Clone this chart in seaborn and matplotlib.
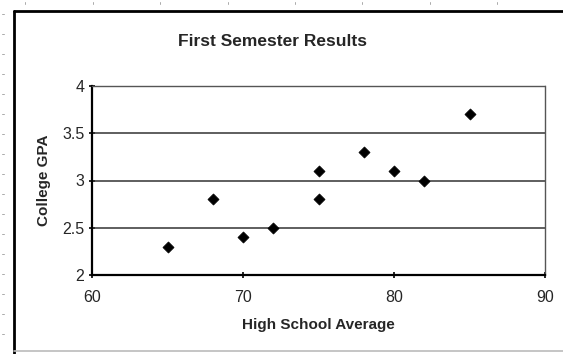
import matplotlib
matplotlib.use("Agg")
import matplotlib.pyplot as plt
from matplotlib.lines import Line2D
import seaborn as sns
import pandas as pd

# Entrance averages and first-semester GPAs
high_school_avg = [65, 68, 70, 72, 75, 75, 78, 80, 82, 85]
college_gpa = [2.3, 2.8, 2.4, 2.5, 3.1, 2.8, 3.3, 3.1, 3.0, 3.7]
x_ticks = [60, 70, 80, 90]
y_ticks = [2, 2.5, 3, 3.5, 4]
y_tick_labels = ["2", "2.5", "3", "3.5", "4"]

df = pd.DataFrame({"High School Average": high_school_avg, "College GPA": college_gpa})

sns.set_style("white")
plt.rcParams["font.family"] = ["Liberation Sans", "DejaVu Sans"]

W, H = 563, 354
fig = plt.figure(figsize=(W / 100, H / 100), dpi=100)
ax = fig.add_axes([92 / W, 1 - 275 / H, (545 - 92) / W, (275 - 86) / H])

# horizontal gridlines
for yv in [2.5, 3, 3.5]:
    ax.axhline(yv, color="#333333", lw=1.1, zorder=1)

sns.scatterplot(data=df, x="High School Average", y="College GPA", marker="D",
                s=32, color="black", edgecolor="black", linewidth=0.5, ax=ax, zorder=3)

ax.set_xlim(60, 90)
ax.set_ylim(2, 4)
ax.set_xticks(x_ticks)
ax.set_yticks(y_ticks)
ax.set_yticklabels(y_tick_labels)
ax.tick_params(axis="both", which="major", direction="inout", length=5, width=1.2,
               labelsize=11.5, color="black", bottom=True, left=True)
ax.tick_params(axis="x", pad=8)
ax.tick_params(axis="y", pad=3)

for side in ["left", "bottom"]:
    ax.spines[side].set_color("black")
    ax.spines[side].set_linewidth(1.6)
ax.spines["top"].set_color("#555555")
ax.spines["top"].set_linewidth(1.0)
ax.spines["top"].set_linestyle((0, (2, 1)))
ax.spines["right"].set_color("#555555")
ax.spines["right"].set_linewidth(1.0)
ax.spines["right"].set_linestyle((0, (1, 1)))

ax.set_xlabel("High School Average", fontsize=11, fontweight="bold", labelpad=10)
ax.set_ylabel("College GPA", fontsize=11, fontweight="bold", labelpad=8)

fig.text(272 / W, 1 - 42 / H, "First Semester Results", ha="center", va="center",
         fontsize=12.5, fontweight="bold")

# chart frame
fig.add_artist(Line2D([14 / W, 14 / W], [0, 1 - 11 / H], transform=fig.transFigure,
                      color="black", lw=2))
fig.add_artist(Line2D([14 / W, 1], [1 - 11 / H, 1 - 11 / H], transform=fig.transFigure,
                      color="black", lw=2))
fig.add_artist(Line2D([14 / W, 1], [1 - 351 / H, 1 - 351 / H], transform=fig.transFigure,
                      color="#bbbbbb", lw=1.2))

# ruler marks along the top and left edges
for xp in [25, 93, 160, 228, 295, 362, 430, 497]:
    fig.add_artist(Line2D([xp / W, xp / W], [1 - 2 / H, 1 - 4 / H], transform=fig.transFigure,
                          color="#aaaaaa", lw=0.7))
for yp in range(14, 350, 20):
    fig.add_artist(Line2D([2 / W, 4 / W], [1 - yp / H, 1 - yp / H], transform=fig.transFigure,
                          color="#aaaaaa", lw=0.7))

fig.savefig("out.png", dpi=100, facecolor="white")
